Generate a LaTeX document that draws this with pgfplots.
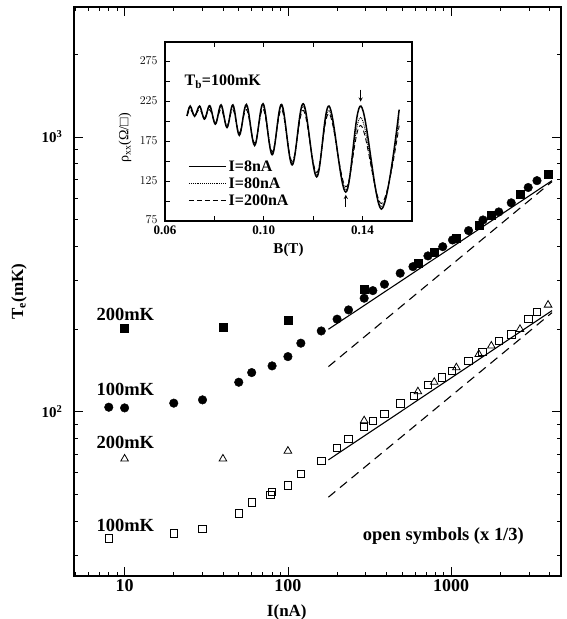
\documentclass[border=0pt]{standalone}
\usepackage{fontspec}
\setmainfont{Liberation Serif}
\usepackage{pgfplots}
\pgfplotsset{compat=1.18}

\begin{document}
\begin{tikzpicture}
\path[use as bounding box] (-74pt,-43pt) rectangle (493pt,576pt);

% main panel: T_e versus I
\begin{axis}[
    at={(0pt,0pt)}, anchor=south west,
    scale only axis, width=487pt, height=569pt,
    xmode=log, ymode=log,
    xmin=4.9, xmax=4700, ymin=25.3, ymax=2970,
    xtick={10,100,1000}, xticklabels={10,100,1000},
    minor xtick={5,6,7,8,9,20,30,40,50,60,70,80,90,200,300,400,500,600,700,800,900,2000,3000,4000},
    ytick={100,1000}, yticklabels={10\textsuperscript{2},10\textsuperscript{3}},
    minor ytick={30,40,50,60,70,80,90,200,300,400,500,600,700,800,900,2000},
    major tick length=9pt, minor tick length=4.5pt,
    tick style={line width=0.8pt, black},
    axis line style={line width=1.3pt},
    xticklabel style={font=\fontsize{18}{20}\selectfont\bfseries},
    yticklabel style={font=\fontsize{15}{17}\selectfont\bfseries, xshift=-8pt},
    xlabel={I(nA)}, ylabel={T\textsubscript{e}(mK)},
    label style={font=\fontsize{17}{19}\selectfont\bfseries},
    xlabel style={at={(axis description cs:0.437,-0.0633)}, anchor=center},
    ylabel style={at={(axis description cs:-0.113,0.5)}, anchor=center},
    clip=false,
]

% filled circles
\addplot[only marks, mark=*, mark size=4.3pt, black] coordinates {
(8,104) (10,103.4) (20,107.6) (30,110.6) (50,128.2) (60,139) (80,147)
(100,158.9) (120,177.8) (160,197) (200,217.4) (235,234.9) (293,259.1)
(331,276.1) (390,291.3) (487,319.5) (583,337.6) (720,369.3) (887,399)
(1018,422) (1277,456.3) (1565,499) (1955,533.6) (2330,576) (2960,655)
(3350,693.6)};

% filled squares
\addplot[only marks, mark=square*, mark size=4pt, black] coordinates {
(10,201.5) (40,203.2) (100,216) (293,279.4) (625,347.4) (787,379.7)
(1069,428) (1475,475.9) (1758,517.4) (2636,617) (3900,733.8)};

% open triangles
\addplot[only marks, mark=triangle, mark size=4.4pt, black, line width=0.8pt] coordinates {
(10,67.5) (40,67.5) (100,72.1) (293,93) (625,118.5) (787,128.3)
(1075,144.9) (1475,162.1) (1760,173.8) (2636,199.9) (3916,244.9)};

% open squares
\addplot[only marks, mark=square, mark size=3.7pt, black, line width=0.8pt] coordinates {
(8,34.7) (20,36.2) (30,37.5) (50,42.8) (60,46.9) (78,49.9) (80,51.1)
(100,54) (120,59.5) (160,66.3) (200,74) (235,79.7) (293,88.4) (331,92.7)
(390,98.1) (487,107.5) (590,114.4) (720,125.4) (877,133.7) (1010,141)
(1277,153.3) (1555,165.7) (1960,181.6) (2340,191.7) (2960,217.5) (3350,231.6)};

% model curves
\addplot[black, line width=1.1pt] coordinates {(177,199.8) (4140,693.6)};
\addplot[black, line width=1.1pt, dash pattern=on 9pt off 6pt] coordinates {(177,146.1) (4140,687.9)};
\addplot[black, line width=1.1pt] coordinates {(177,66.9) (4140,233.6)};
\addplot[black, line width=1.1pt, dash pattern=on 9pt off 6pt] coordinates {(177,48.96) (4140,229.6)};

\begin{scope}[font=\fontsize{18.5}{20}\selectfont\bfseries]
\node[anchor=west] at (axis cs:6.41,227) {200mK};
\node[anchor=west] at (axis cs:6.41,121) {100mK};
\node[anchor=west] at (axis cs:6.41,77.6) {200mK};
\node[anchor=west] at (axis cs:6.41,38.5) {100mK};
\node[anchor=west] at (axis cs:274,35.2) {open symbols (x 1/3)};
\end{scope}
\end{axis}

% inset: rho_xx versus B
\begin{axis}[
    at={(91pt,355pt)}, anchor=south west,
    scale only axis, width=247pt, height=179pt,
    axis background/.style={fill=white},
    xmin=0.06, xmax=0.16, ymin=75, ymax=300,
    xtick={0.06,0.10,0.14}, xticklabels={0.06,0.10,0.14},
    minor xtick={0.08,0.12,0.16},
    ytick={75,125,175,225,275}, minor ytick={100,150,200,250},
    major tick length=5pt, minor tick length=5pt,
    tick style={line width=0.8pt, black},
    axis line style={line width=1.2pt},
    ticklabel style={font=\fontsize{13}{15}\selectfont\bfseries},
    xticklabel style={yshift=-1.5pt},
    yticklabel style={xshift=-4pt, yshift=1pt},
    xlabel={B(T)}, ylabel={\mdseries ρ\textsubscript{xx}(Ω/□)},
    xlabel style={font=\fontsize{15}{17}\selectfont\bfseries, at={(axis description cs:0.5,-0.162)}, anchor=center},
    ylabel style={font=\fontsize{14}{16}\selectfont, at={(axis description cs:-0.162,0.464)}, anchor=center},
    legend style={at={(axis description cs:0.093,0.35)}, anchor=north west,
        draw=none, fill=none, inner sep=0pt, row sep=1pt,
        font=\fontsize{16}{19}\selectfont\bfseries},
    legend cell align=left,
    legend image code/.code={\draw[#1] (0pt,0pt) -- (37pt,0pt);},
]
\addplot[black, line width=1.5pt, smooth, tension=0.6] coordinates {
(0.0689,207) (0.0702,219.5) (0.0720,206.6) (0.0740,219.5) (0.0760,203)
(0.0781,220) (0.0804,196.8) (0.0827,221) (0.0851,192.5) (0.0875,221)
(0.0901,182.7) (0.0930,221.5) (0.0963,169.9) (0.0997,222.4) (0.1034,158.3)
(0.1072,221.5) (0.1115,145.5) (0.1160,222.4) (0.1214,130.5) (0.1264,219.5)
(0.1332,111.3) (0.1393,219.5) (0.1476,90) (0.1548,215)};
\addlegendentry{I=8nA}
\addplot[black, line width=0.9pt, densely dotted, smooth, tension=0.6] coordinates {
(0.0689,207) (0.0702,218) (0.0720,207.5) (0.0740,218) (0.0760,204)
(0.0781,218.5) (0.0804,198) (0.0827,219) (0.0851,194) (0.0875,219)
(0.0901,184.5) (0.0930,219.5) (0.0963,171.5) (0.0997,220) (0.1034,160)
(0.1072,219) (0.1115,147.5) (0.1160,219) (0.1214,133) (0.1264,214)
(0.1332,114) (0.1393,205) (0.1476,93) (0.1548,205)};
\addlegendentry{I=80nA}
\addplot[black, line width=0.9pt, dash pattern=on 5pt off 3pt, smooth, tension=0.6] coordinates {
(0.0689,207) (0.0702,215) (0.0720,208) (0.0740,215) (0.0760,205)
(0.0781,215) (0.0804,199) (0.0827,215) (0.0851,195) (0.0875,215)
(0.0901,186) (0.0930,215) (0.0963,173) (0.0997,216) (0.1034,162)
(0.1072,215) (0.1115,150) (0.1160,214) (0.1214,136) (0.1264,210)
(0.1332,118) (0.1393,195) (0.1476,97) (0.1548,195)};
\addlegendentry{I=200nA}

\draw[-stealth, line width=0.9pt] (axis cs:0.1392,240) -- (axis cs:0.1392,225);
\draw[-stealth, line width=0.9pt] (axis cs:0.1332,93) -- (axis cs:0.1332,108);
\node[anchor=west, font=\fontsize{16}{18}\selectfont\bfseries] at (axis cs:0.0665,250) {T\textsubscript{b}=100mK};
\end{axis}
\end{tikzpicture}
\end{document}
